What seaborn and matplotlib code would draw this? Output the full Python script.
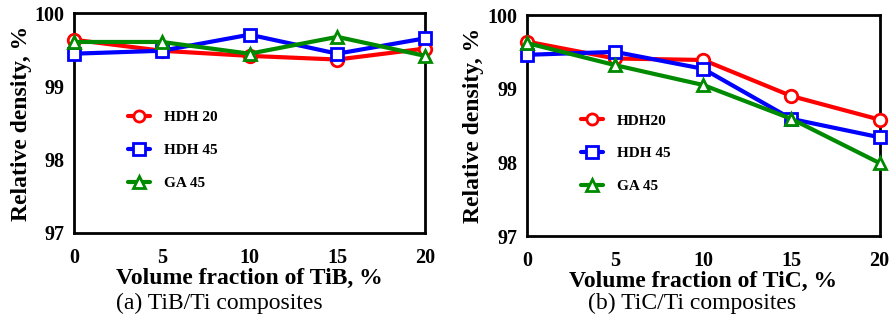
import matplotlib
matplotlib.use("Agg")
import matplotlib.pyplot as plt
import pandas as pd
import seaborn as sns

vol = [0, 5, 10, 15, 20]

tib_hdh20 = [99.64, 99.49, 99.42, 99.37, 99.52]
tib_hdh45 = [99.45, 99.49, 99.71, 99.45, 99.66]
tib_ga45 = [99.61, 99.61, 99.45, 99.68, 99.42]

tic_hdh20 = [99.64, 99.41, 99.39, 98.90, 98.58]
tic_hdh45 = [99.46, 99.50, 99.27, 98.59, 98.34]
tic_ga45 = [99.62, 99.32, 99.05, 98.59, 97.99]

labels_a = ["HDH 20", "HDH 45", "GA 45"]
labels_b = ["HDH20", "HDH 45", "GA 45"]
colors = ["#ff0000", "#0000ff", "#008a00"]
marks = ["o", "s", "^"]


def make_df(series, labels):
    rows = []
    for vals, lab in zip(series, labels):
        for x, y in zip(vol, vals):
            rows.append({"x": x, "y": y, "powder": lab})
    return pd.DataFrame(rows)


def panel(ax, df, labels, xlabel, legend_anchor):
    pal = dict(zip(labels, colors))
    mk = dict(zip(labels, marks))
    sns.lineplot(data=df, x="x", y="y", hue="powder", style="powder",
                 palette=pal, markers=mk, dashes=False, linewidth=3,
                 markersize=9, markerfacecolor="white", markeredgewidth=2,
                 ax=ax)
    for line, c in zip(ax.get_lines(), colors):
        line.set_markeredgecolor(c)
        line.set_clip_on(False)
        line.set_zorder(3)
    ax.set_xlim(0, 20)
    ax.set_ylim(97, 100)
    ax.set_xticks(vol)
    ax.set_yticks([97, 98, 99, 100])
    ax.tick_params(direction="in", length=0, labelsize=14.5, colors="black")
    ax.tick_params(axis="x", pad=11)
    ax.tick_params(axis="y", pad=7)
    for t in ax.get_xticklabels() + ax.get_yticklabels():
        t.set_fontweight("bold")
    for s in ax.spines.values():
        s.set_linewidth(2)
        s.set_color("black")
    ax.set_xlabel(xlabel, fontsize=17, fontweight="bold", labelpad=0, color="black")
    ax.set_ylabel("Relative density, %", fontsize=17, fontweight="bold",
                  labelpad=2, color="black")
    ax.grid(False)
    leg = ax.legend(loc="upper left", bbox_to_anchor=legend_anchor, frameon=False,
                    handlelength=1.45, handletextpad=0.9, labelspacing=1.25,
                    borderaxespad=0, prop={"weight": "bold", "size": 11})
    for h, c in zip(leg.legend_handles, colors):
        h.set_markeredgecolor(c)
        h.set_markerfacecolor("white")
        h.set_markersize(8)
        h.set_linewidth(3)
    for t in leg.get_texts():
        t.set_color("black")


sns.set_theme(style="white")
plt.rcParams["font.family"] = ["Liberation Serif", "DejaVu Serif"]
plt.rcParams["text.color"] = "black"

fig = plt.figure(figsize=(8.93, 3.2), dpi=100)
ax1 = fig.add_axes([0.083, 0.272, 0.393, 0.686])
ax2 = fig.add_axes([0.590, 0.2625, 0.395, 0.6905])

df_a = make_df([tib_hdh20, tib_hdh45, tib_ga45], labels_a)
df_b = make_df([tic_hdh20, tic_hdh45, tic_ga45], labels_b)

panel(ax1, df_a, labels_a, "Volume fraction of TiB, %", (0.135, 0.585))
panel(ax2, df_b, labels_b, "Volume fraction of TiC, %", (0.135, 0.58))

fig.text(219 / 893, 1 - 303 / 320, "(a) TiB/Ti composites", ha="center",
         va="center", fontsize=17, color="black")
fig.text(692 / 893, 1 - 303 / 320, "(b) TiC/Ti composites", ha="center",
         va="center", fontsize=17, color="black")

fig.savefig("out.png", dpi=100)
